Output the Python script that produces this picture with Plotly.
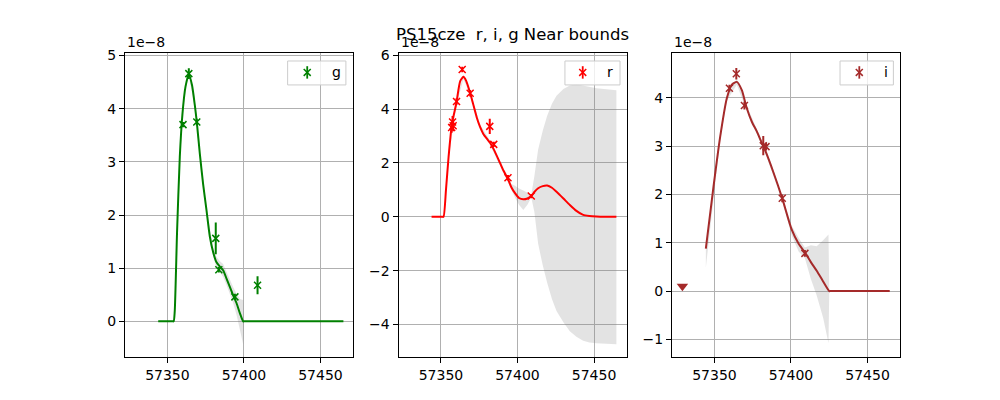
import plotly.graph_objects as go
from plotly.subplots import make_subplots

# photometry, flux in units of 1e-8
g_mjd = [57360.2, 57364.0, 57369.2, 57381.6, 57383.6, 57394.1, 57408.9]
g_flux = [3.70, 4.66, 3.75, 1.56, 0.97, 0.46, 0.68]
g_err = [0.05, 0.10, 0.06, 0.30, 0.05, 0.06, 0.17]

r_mjd = [57357.0, 57357.6, 57358.0, 57360.2, 57363.9, 57369.1, 57381.9, 57384.5, 57393.8, 57409.0]
r_flux = [3.32, 3.52, 3.38, 4.28, 5.47, 4.59, 3.36, 2.69, 1.45, 0.77]
r_err = [0.20, 0.22, 0.20, 0.12, 0.10, 0.12, 0.28, 0.10, 0.10, 0.08]

i_mjd = [57359.8, 57364.3, 57369.6, 57381.9, 57383.7, 57394.3, 57409.1]
i_flux = [4.20, 4.50, 3.84, 3.01, 2.99, 1.92, 0.78]
i_err = [0.07, 0.12, 0.08, 0.20, 0.08, 0.08, 0.07]

# upper limit in i
i_lim_mjd = [57329.1]
i_lim_flux = [0.10]

# model curves
g_mod_t = [57344.0, 57350.0, 57353.4, 57354.1, 57354.8, 57356.3, 57358.1, 57359.8, 57361.8, 57364.0,
           57366.1, 57367.9, 57369.2, 57371.2, 57373.3, 57375.5, 57377.7, 57379.9, 57382.1, 57384.3,
           57386.4, 57388.7, 57390.8, 57393.0, 57395.2, 57397.4, 57399.5, 57400.2, 57401.5, 57410.0,
           57430.0, 57450.0, 57465.0]
g_mod = [0.0, 0.0, 0.0, 0.0, 0.19, 1.67, 3.09, 3.89, 4.41, 4.65,
         4.44, 4.07, 3.75, 3.15, 2.59, 2.10, 1.60, 1.30, 1.11, 1.03,
         0.96, 0.80, 0.65, 0.49, 0.34, 0.15, 0.0, 0.0, 0.0, 0.0,
         0.0, 0.0, 0.0]

r_mod_t = [57343.9, 57348.0, 57350.8, 57351.7, 57353.3, 57355.0, 57357.2, 57360.0, 57362.6, 57364.7,
           57366.5, 57369.1, 57371.0, 57373.4, 57375.5, 57377.7, 57380.0, 57382.1, 57385.0, 57388.6,
           57391.0, 57393.8, 57396.0, 57398.4, 57401.0, 57403.8, 57406.5, 57409.0, 57411.0, 57413.5,
           57416.5, 57419.4, 57422.5, 57425.5, 57430.0, 57434.2, 57438.5, 57442.9, 57447.0, 57451.6,
           57457.0, 57464.6]
r_mod = [0.0, 0.0, 0.0, 0.0, 1.00, 2.22, 3.45, 4.20, 5.04, 5.20,
         5.05, 4.60, 4.20, 3.69, 3.35, 3.08, 2.90, 2.75, 2.45, 2.00,
         1.70, 1.40, 1.10, 0.88, 0.70, 0.65, 0.68, 0.77, 0.92, 1.06,
         1.14, 1.16, 1.08, 0.93, 0.68, 0.44, 0.22, 0.07, 0.03, 0.01,
         0.0, 0.0]

i_mod_t = [57344.4, 57349.4, 57353.7, 57358.1, 57361.3, 57364.6, 57367.9, 57371.1, 57374.5, 57377.6,
           57380.5, 57383.3, 57388.5, 57394.3, 57400.5, 57405.0, 57409.1, 57413.0, 57416.8, 57421.0,
           57425.0, 57425.7, 57427.0, 57435.0, 57450.0, 57464.5]
i_mod = [0.88, 2.16, 3.18, 3.99, 4.27, 4.33, 4.16, 3.79, 3.50, 3.31,
         3.10, 2.90, 2.46, 1.92, 1.27, 0.98, 0.80, 0.60, 0.42, 0.20,
         0.0, 0.0, 0.0, 0.0, 0.0, 0.0]

# model uncertainty bands
g_band_t = [57354.1, 57356.3, 57358.1, 57361.8, 57364.0, 57367.9, 57371.2, 57375.5, 57379.9, 57382.1,
            57384.3, 57386.4, 57388.7, 57390.8, 57393.0, 57395.2, 57397.4, 57399.5, 57400.0]
g_band_lo = [0.0, 1.62, 3.05, 4.38, 4.61, 4.03, 3.11, 2.05, 1.22, 1.01,
             0.93, 0.84, 0.68, 0.53, 0.34, 0.12, -0.15, -0.43, 0.0]
g_band_hi = [0.0, 1.72, 3.13, 4.44, 4.69, 4.11, 3.19, 2.15, 1.38, 1.21,
             1.13, 1.08, 0.92, 0.77, 0.64, 0.52, 0.42, 0.40, 0.0]

r_band_t = [57351.7, 57355.0, 57360.0, 57364.7, 57369.1, 57375.5, 57382.1, 57388.6, 57393.8, 57396.0,
            57398.4, 57401.0, 57403.8, 57406.5, 57409.0, 57411.0, 57413.5, 57416.5, 57419.4, 57422.5,
            57425.5, 57430.0, 57434.2, 57438.5, 57442.9, 57447.0, 57451.6, 57464.6]
r_band_lo = [0.0, 2.15, 4.12, 5.12, 4.52, 3.27, 2.67, 1.92, 1.32, 1.00,
             0.72, 0.45, 0.25, 0.45, 0.72, 0.20, -1.00, -1.80, -2.45, -3.05,
             -3.50, -3.92, -4.25, -4.46, -4.60, -4.67, -4.70, -4.73]
r_band_hi = [0.0, 2.29, 4.28, 5.28, 4.68, 3.43, 2.83, 2.08, 1.48, 1.22,
             1.15, 1.05, 0.98, 0.90, 0.82, 1.50, 2.50, 3.20, 3.75, 4.20,
             4.50, 4.75, 4.88, 4.92, 4.88, 4.82, 4.78, 4.70]

i_band_t = [57344.4, 57349.4, 57353.7, 57358.1, 57364.6, 57371.1, 57377.6, 57383.3, 57388.5, 57394.3,
            57400.5, 57405.0, 57409.1, 57413.0, 57416.8, 57421.0, 57424.5, 57425.0]
i_band_lo = [0.49, 1.95, 3.10, 3.94, 4.27, 3.74, 3.26, 2.85, 2.41, 1.87,
             1.15, 0.82, 0.68, 0.25, -0.09, -0.55, -1.08, 0.0]
i_band_hi = [0.92, 2.25, 3.25, 4.04, 4.39, 3.84, 3.36, 2.95, 2.51, 1.97,
             1.35, 1.10, 0.90, 0.95, 0.93, 1.05, 1.17, 0.0]

font = "DejaVu Sans"
band_col = "rgba(128,128,128,0.22)"

panels = [
    dict(name="g", col="#008000", t=g_mjd, f=g_flux, e=g_err, mt=g_mod_t, m=g_mod,
         bt=g_band_t, blo=g_band_lo, bhi=g_band_hi, yr=[-0.667, 5.04], dt=1,
         leg=(0.7136, 0.9693, 0.7996, 0.9285)),
    dict(name="r", col="#ff0000", t=r_mjd, f=r_flux, e=r_err, mt=r_mod_t, m=r_mod,
         bt=r_band_t, blo=r_band_lo, bhi=r_band_hi, yr=[-5.2, 6.07], dt=2,
         leg=(0.730, 0.9715, 0.808, 0.928)),
    dict(name="i", col="#a52a2a", t=i_mjd, f=i_flux, e=i_err, mt=i_mod_t, m=i_mod,
         bt=i_band_t, blo=i_band_lo, bhi=i_band_hi, yr=[-1.36, 4.92], dt=1,
         leg=(0.737, 0.971, 0.8215, 0.9386)),
]
# page body has an 8px margin, so domains are shifted left/up by 8px
xdoms = [[0.117, 0.3449], [0.3905, 0.6185], [0.664, 0.892]]
ydom = [0.13, 0.90]

fig = make_subplots(rows=1, cols=3)
shapes = []
annots = []
for k, p in enumerate(panels):
    c = k + 1
    fig.add_trace(go.Scatter(x=p["bt"] + p["bt"][::-1], y=p["bhi"] + p["blo"][::-1],
                             fill="toself", fillcolor=band_col, line=dict(width=0),
                             mode="lines", hoverinfo="skip", showlegend=False), row=1, col=c)
    fig.add_trace(go.Scatter(x=p["mt"], y=p["m"], mode="lines",
                             line=dict(color=p["col"], width=2, shape="spline", smoothing=0.6),
                             showlegend=False), row=1, col=c)
    fig.add_trace(go.Scatter(x=p["t"], y=p["f"], mode="markers",
                             marker=dict(symbol="x-thin", size=7, line=dict(color=p["col"], width=1.5)),
                             error_y=dict(type="data", array=p["e"], color=p["col"], thickness=2, width=0),
                             showlegend=False), row=1, col=c)
    if p["name"] == "i":
        fig.add_trace(go.Scatter(x=i_lim_mjd, y=i_lim_flux, mode="markers",
                                 marker=dict(symbol="triangle-down", size=10, color=p["col"]),
                                 showlegend=False), row=1, col=c)

    xa = "x" if c == 1 else "x%d" % c
    ya = "y" if c == 1 else "y%d" % c
    fig.update_xaxes(domain=xdoms[k], range=[57322.3, 57471.2], tick0=57350, dtick=50,
                     tickformat="d", row=1, col=c)
    fig.update_yaxes(domain=ydom, range=p["yr"], tick0=0, dtick=p["dt"], row=1, col=c)

    # hand made legend box
    x0, x1, gx, lx = p["leg"]
    shapes.append(dict(type="rect", xref=xa + " domain", yref=ya + " domain",
                       x0=x0, x1=x1, y0=0.896, y1=0.975,
                       line=dict(color="#cccccc", width=1), fillcolor="rgba(255,255,255,0.8)"))
    gy = 0.9373
    for (dx, dy0, dy1) in [(0, -0.0205, 0.0205), (0.0154, -0.0114, 0.0114), (-0.0154, -0.0114, 0.0114)]:
        shapes.append(dict(type="line", xref=xa + " domain", yref=ya + " domain",
                           x0=gx - dx, x1=gx + dx, y0=gy + dy0, y1=gy + dy1,
                           line=dict(color=p["col"], width=1.8 if dx == 0 else 1.5)))
    annots.append(dict(text=p["name"], xref=xa + " domain", yref=ya + " domain", x=lx, y=gy,
                       showarrow=False, xanchor="center", yanchor="middle",
                       font=dict(family=font, size=14, color="black")))
    # offset text
    annots.append(dict(text="1e\u22128", xref=xa + " domain", yref=ya + " domain", x=0, y=1,
                       yshift=11.5, showarrow=False, xanchor="left", yanchor="middle",
                       font=dict(family=font, size=14, color="black")))

annots.append(dict(text="PS15cze  r, i, g Near bounds", xref="paper", yref="paper",
                   x=0.5047, y=0.948, showarrow=False, xanchor="center", yanchor="middle",
                   font=dict(family=font, size=16.5, color="black")))

axstyle = dict(showline=True, mirror=True, linecolor="black", linewidth=1,
               showgrid=True, gridcolor="#b0b0b0", gridwidth=1, zeroline=False,
               ticks="outside", ticklen=5, tickwidth=1, tickcolor="black",
               tickfont=dict(family=font, size=14, color="black"))
fig.update_xaxes(**axstyle)
fig.update_yaxes(**axstyle)

fig.update_layout(width=1000, height=400, margin=dict(l=0, r=0, t=0, b=0),
                  paper_bgcolor="white", plot_bgcolor="white", showlegend=False,
                  shapes=shapes, annotations=annots, font=dict(family=font))

fig.write_html("out.html")
